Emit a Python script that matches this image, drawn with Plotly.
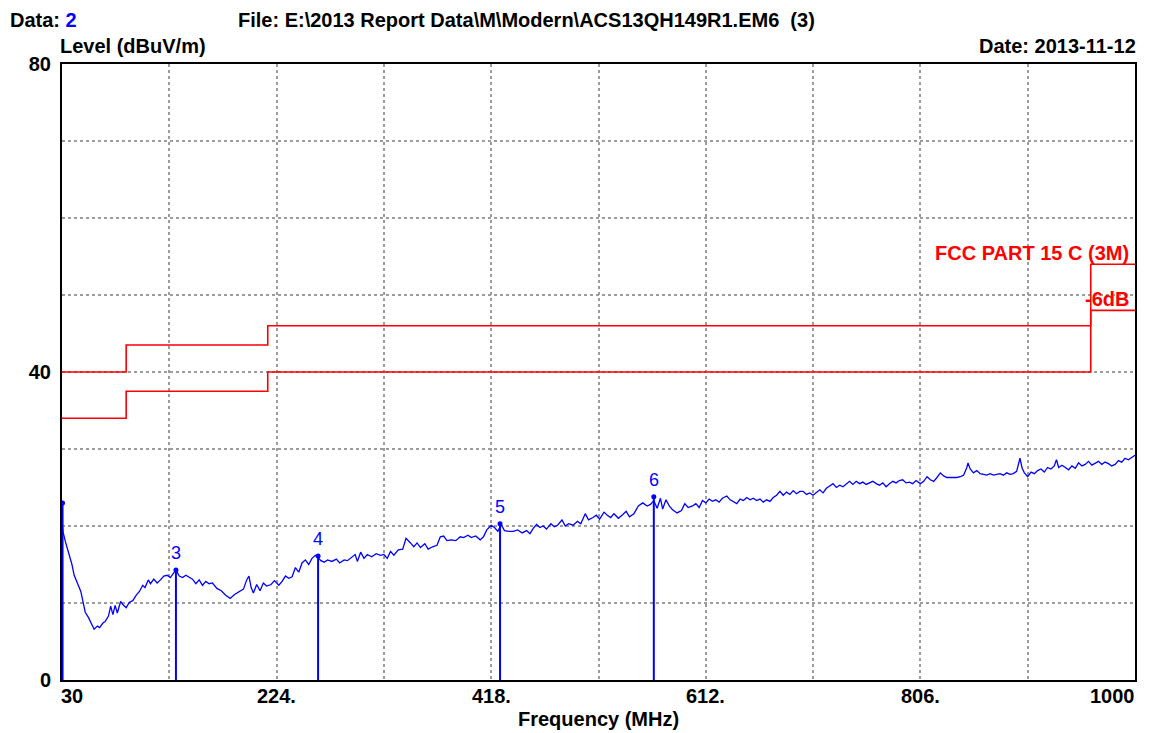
import plotly.graph_objects as go

# ---------------- data ----------------
freq = [30, 31, 33, 35, 37, 39, 41, 43, 45, 47, 49, 51, 54, 57, 59, 62, 64, 67, 69, 72, 74, 76, 78, 80, 83, 85, 88,
        91, 94, 97, 100, 103, 105, 108, 110, 113, 116, 119, 122, 125, 128, 131, 133, 136, 139, 142, 145, 148, 151,
        154, 157, 160, 163, 166, 170, 174, 178, 182, 186, 190, 194, 197, 199, 201, 203, 206, 209, 212, 215, 219,
        222, 226, 229, 232, 235, 238, 241, 244, 247, 250, 253, 256, 259, 261, 264, 267, 270, 274, 278, 281, 285,
        288, 292, 295, 297, 300, 303, 306, 310, 314, 318, 321, 324, 327, 330, 334, 338, 341, 345, 348, 351, 354,
        358, 361, 365, 369, 372, 375, 378, 382, 386, 390, 393, 397, 400, 404, 408, 411, 414, 418, 421, 424, 427,
        430, 434, 438, 442, 446, 450, 453, 456, 459, 462, 465, 468, 472, 475, 478, 482, 485, 488, 492, 496, 499,
        503, 506, 510, 513, 516, 520, 523, 526, 529, 533, 537, 540, 543, 547, 551, 555, 559, 562, 565, 568, 571,
        573, 576, 579, 582, 586, 590, 593, 596,
        600, 603, 606, 609, 612, 615, 618, 621, 624, 627, 631, 634, 637, 640, 643, 646, 649, 652, 655, 658, 661,
        664, 667, 670, 673, 676, 679, 682, 685, 688, 691, 694, 697, 700, 703, 706, 709, 712, 715, 718, 721, 724,
        727, 730, 733, 736, 739, 742, 745, 748, 751, 754, 757, 760, 763, 766, 769, 772, 775, 778, 781, 784, 787,
        790, 793, 796, 799, 802, 806, 809, 812, 815, 818, 821, 824, 827, 830, 833, 836, 839, 842, 845, 848, 849,
        851, 854, 857, 860, 863, 866, 869, 872, 875, 878, 881, 884, 887, 890, 893, 896, 898, 900, 903, 906, 909,
        912, 915, 918, 921, 924, 927, 929, 931, 934, 937, 940, 943, 946, 949, 952, 955, 958, 961, 964, 967, 970,
        973, 976, 979, 982, 985, 988, 991, 994, 997, 1000]
level = [20.3, 19.2, 18.0, 17.0, 16.0, 15.0, 13.6, 12.8, 12.2, 11.5, 10.0, 8.8, 8.1, 7.2, 6.6, 7.0, 6.8, 7.4, 7.6,
         8.3, 9.6, 8.5, 9.7, 8.7, 10.2, 9.8, 9.4,
         10.1, 10.3, 11.0, 11.5, 12.3, 12.0, 13.0, 12.5, 13.1, 12.6, 13.0, 13.5, 13.6, 13.3, 13.9, 14.3, 13.5,
         13.3, 13.6, 13.4, 13.1, 12.5, 13.0, 12.3, 12.8, 12.5, 12.6, 11.9, 11.6, 11.0, 10.6, 11.1, 11.5, 11.8,
         13.0, 13.5, 12.0, 11.3, 12.4, 11.6, 12.6, 12.2, 12.4, 12.9, 12.3, 12.8, 13.5, 13.2, 13.4, 14.6, 14.0,
         15.2, 15.6, 15.0, 15.8, 16.2, 16.0, 15.5, 15.3, 15.6, 15.4, 15.7, 15.2, 15.6, 15.5, 16.0, 16.3, 15.4,
         16.6, 15.8, 16.3, 16.0, 16.4, 16.2, 16.3, 15.8, 16.7, 16.2, 16.9, 17.0, 18.4, 17.8, 17.3, 17.8, 17.2,
         17.7, 17.0, 17.3, 17.5, 18.6, 18.7, 18.1, 18.2, 18.1, 18.6, 18.5, 18.8, 18.5, 18.7, 18.2, 18.6, 19.5,
         20.1, 19.8, 19.3, 20.2, 19.4, 19.3, 19.3, 19.5, 19.1, 19.4, 19.0, 19.7, 20.2, 19.8, 20.0, 19.6, 20.3,
         19.9, 20.1, 20.8, 20.0, 20.3, 20.1, 20.6, 20.3, 21.6, 20.8, 21.1, 21.4, 20.9, 21.8, 21.4, 21.1, 21.6,
         21.0, 21.5, 21.9, 21.2, 21.6, 22.6, 23.0, 22.6, 22.8, 23.3, 22.3, 23.6, 22.2, 23.4, 22.6, 22.1, 21.7,
         22.0, 22.9, 22.4,
         22.6, 22.9, 22.4, 23.3, 23.0, 23.5, 23.2, 23.4, 23.1, 23.6, 23.9, 23.4, 23.2, 22.9, 23.5, 23.3, 23.7,
         23.4, 23.6, 23.3, 23.5, 23.1, 23.4, 23.2, 23.7, 24.0, 24.5, 24.0, 24.4, 24.1, 24.6, 24.2, 24.5, 24.5,
         24.1, 24.3, 24.0, 24.4, 24.7, 24.3, 24.9, 25.2, 25.5, 25.0, 25.3, 25.1, 25.5, 25.8, 25.4, 25.8, 25.5,
         25.7, 25.4, 25.6, 25.8, 25.5, 25.3, 25.6, 25.1, 25.5, 25.8, 25.6, 25.9, 26.0, 25.6, 25.7, 25.5, 25.9,
         25.5, 25.8, 26.4, 26.0, 25.8, 26.3, 26.9, 26.5, 26.3, 26.3, 26.3, 26.3, 26.4, 26.6, 27.6, 28.2, 27.4,
         26.9, 27.2, 26.8, 26.7, 26.6, 26.8, 26.6, 26.7, 26.8, 26.6, 26.9, 26.7, 26.8, 27.1, 28.8, 27.5, 26.9,
         26.4, 27.0, 26.8, 27.2, 27.4, 27.0, 27.6, 27.4, 27.8, 28.6, 27.6, 27.9, 27.6, 27.3, 27.8, 27.5, 28.2,
         27.8, 28.0, 28.4, 27.9, 28.2, 28.4, 28.0, 28.3, 28.1, 27.8, 28.0, 28.5, 28.3, 28.8, 28.6, 28.9, 29.2]

limit_freq = [30, 88, 216, 960, 1000]
limit_level = [40, 43.5, 46, 54, 54]
margin_level = [34, 37.5, 40, 48, 48]

marker_freq = [30.5, 133, 261.5, 426, 565]
marker_level = [23.0, 14.3, 16.1, 20.3, 23.8]
marker_label = ["", "3", "4", "5", "6"]

x_tick_vals = [30, 224, 418, 612, 806, 1000]
x_tick_text = ["30", "224.", "418.", "612.", "806.", "1000"]
y_tick_vals = [0, 40, 80]
y_tick_text = ["0", "40", "80"]

FONT = "Liberation Sans, Arial, sans-serif"
BLUE = "#0000ff"
RED = "#ff0000"
GRID = "#9c9c9c"

fig = go.Figure()

# limit lines
fig.add_trace(go.Scatter(x=limit_freq, y=limit_level, mode="lines", line_shape="hv",
                         line=dict(color=RED, width=1.6), hoverinfo="skip", showlegend=False))
fig.add_trace(go.Scatter(x=limit_freq, y=margin_level, mode="lines", line_shape="hv",
                         line=dict(color=RED, width=1.6), hoverinfo="skip", showlegend=False))

# measured trace
fig.add_trace(go.Scatter(x=freq, y=level, mode="lines",
                         line=dict(color=BLUE, width=1.3), showlegend=False))

# marker stems
mx, my = [], []
for f, l in zip(marker_freq, marker_level):
    mx += [f, f, None]
    my += [0, l, None]
fig.add_trace(go.Scatter(x=mx, y=my, mode="lines", line=dict(color=BLUE, width=2),
                         hoverinfo="skip", showlegend=False))
fig.add_trace(go.Scatter(x=marker_freq, y=marker_level, mode="markers",
                         marker=dict(color=BLUE, size=5), hoverinfo="skip", showlegend=False))

ann = []
for f, l, t in zip(marker_freq, marker_level, marker_label):
    if t:
        ann.append(dict(x=f, y=l, xref="x", yref="y", text=t, showarrow=False,
                        yanchor="bottom", yshift=5, font=dict(family=FONT, size=18, color=BLUE)))

for v, t in zip(x_tick_vals, x_tick_text):
    anchor = "left" if v == x_tick_vals[0] else ("right" if v == x_tick_vals[-1] else "center")
    xs = -3 if anchor == "left" else (2 if anchor == "right" else 0)
    ann.append(dict(x=v, y=0, xref="x", yref="paper", text=t, showarrow=False, xanchor=anchor,
                    yanchor="top", yshift=-3, xshift=xs,
                    font=dict(family=FONT, size=20, color="black", weight="bold")))


# reference-picture pixel -> paper coordinates (plot area spans x 62..1135, y 64..680)
def px(xp):
    return (xp - 62) / 1073


def py(yp):
    return (680 - yp) / 616


bold = dict(family=FONT, size=20, color="black", weight="bold")
ann += [
    dict(x=px(8), y=py(20), xref="paper", yref="paper", xanchor="left", yanchor="middle", showarrow=False,
         text="Data: <span style='color:#0000ff'>2</span>", font=bold),
    dict(x=px(236), y=py(20), xref="paper", yref="paper", xanchor="left", yanchor="middle", showarrow=False,
         text="File: E:\\2013 Report Data\\M\\Modern\\ACS13QH149R1.EM6  (3)", font=bold),
    dict(x=px(58), y=py(46), xref="paper", yref="paper", xanchor="left", yanchor="middle", showarrow=False,
         text="Level (dBuV/m)", font=bold),
    dict(x=px(1138), y=py(46), xref="paper", yref="paper", xanchor="right", yanchor="middle", showarrow=False,
         text="Date: 2013-11-12", font=bold),
    dict(x=px(598), y=py(719), xref="paper", yref="paper", xanchor="center", yanchor="middle", showarrow=False,
         text="Frequency (MHz)", font=bold),
    dict(x=px(1131), y=py(253), xref="paper", yref="paper", xanchor="right", yanchor="middle", showarrow=False,
         text="FCC PART 15 C (3M)", font=dict(family=FONT, size=20, color=RED, weight="bold")),
    dict(x=px(1131), y=py(299), xref="paper", yref="paper", xanchor="right", yanchor="middle", showarrow=False,
         text="-6dB", font=dict(family=FONT, size=20, color=RED, weight="bold")),
]

# page body has an 8px margin, so the figure is 8px smaller and offset by 8px
fig.update_layout(
    width=1157, height=725,
    margin=dict(l=54, r=30, t=56, b=53),
    paper_bgcolor="white", plot_bgcolor="white",
    annotations=ann,
    xaxis=dict(range=[30, 1000], tickvals=x_tick_vals, showticklabels=False, ticks="",
               showgrid=False, zeroline=False,
               minor=dict(tick0=30, dtick=97, showgrid=True, gridcolor=GRID, griddash="dot", gridwidth=1.5),
               showline=True, linecolor="black", linewidth=2, mirror=True),
    yaxis=dict(range=[0, 80], tickvals=y_tick_vals, ticktext=y_tick_text, ticks="",
               tickfont=dict(family=FONT, size=20, color="black", weight="bold"), ticklabelstandoff=5,
               showgrid=False, zeroline=False, layer="below traces",
               minor=dict(tick0=0, dtick=10, showgrid=True, gridcolor=GRID, griddash="dot", gridwidth=1.5),
               showline=True, linecolor="black", linewidth=2, mirror=True),
)

fig.write_html("out.html")
